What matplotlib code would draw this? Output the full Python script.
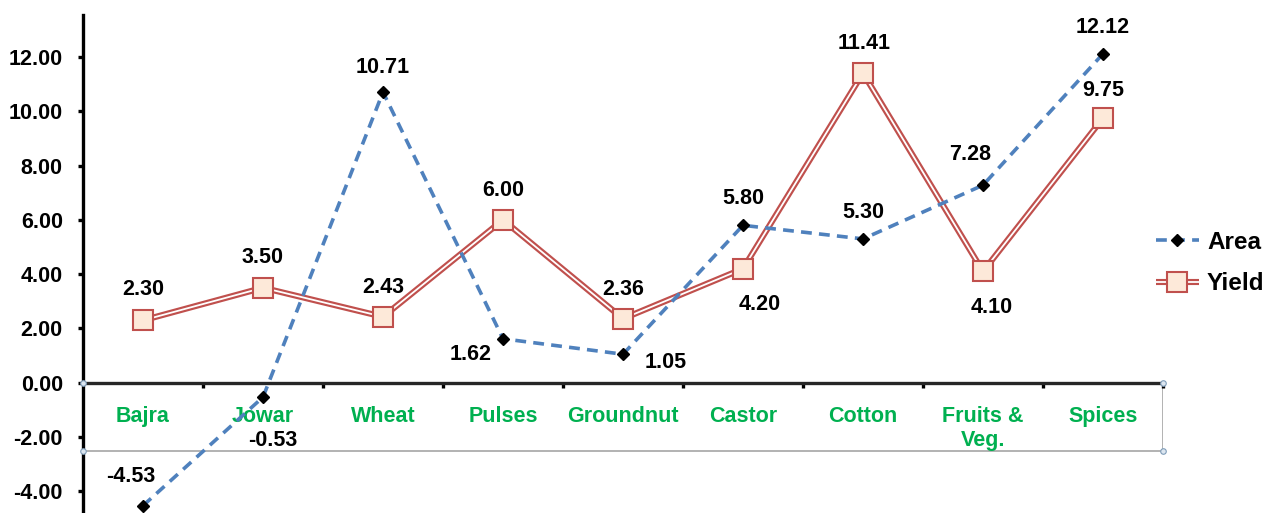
import matplotlib
matplotlib.use("Agg")
import matplotlib.pyplot as plt
from matplotlib.ticker import FormatStrFormatter

plt.rcParams['font.family'] = ['Liberation Sans', 'DejaVu Sans']
plt.rcParams['font.weight'] = 'bold'

# data
crops = ["Bajra", "Jowar", "Wheat", "Pulses", "Groundnut", "Castor", "Cotton",
         "Fruits &\nVeg.", "Spices"]
area = [-4.53, -0.53, 10.71, 1.62, 1.05, 5.80, 5.30, 7.28, 12.12]
yld = [2.30, 3.50, 2.43, 6.00, 2.36, 4.20, 11.41, 4.10, 9.75]

# label offsets in points (dx, dy)
area_off = [(-9, 21), (7, -31), (0, 18), (-23, -11), (31, -6), (0, 19), (0, 19), (-9, 22), (0, 19)]
yld_off = [(0, 22), (0, 22), (0, 21), (0, 21), (0, 21), (12, -26), (1, 21), (6, -26), (0, 20)]

blue = '#4F81BD'
red = '#C0504D'
green = '#00B050'
fs = 15.5

fig = plt.figure(figsize=(12.71, 5.13), dpi=100)
ax = fig.add_axes([83 / 1271, 0, (1163 - 83) / 1271, 1 - 15 / 513])

x = list(range(len(crops)))

# yield: double line (red outline, white core) with square markers
y_out, = ax.plot(x, yld, color=red, lw=4.4, solid_capstyle='butt', zorder=3)
y_in, = ax.plot(x, yld, color='white', lw=1.3, marker='s', ms=14,
                mfc='#FDE9D9', mec=red, mew=1.5, zorder=4)
# area: dashed blue line with black diamonds
a_line, = ax.plot(x, area, color=blue, lw=2.6, ls=(0, (3, 2)), marker='D', ms=6,
                  mfc='black', mec='black', zorder=5)

for i in x:
    ax.annotate(f"{area[i]:.2f}", (i, area[i]), xytext=area_off[i], textcoords='offset points',
                ha='center', va='center', fontsize=fs, fontweight='bold', zorder=6)
    ax.annotate(f"{yld[i]:.2f}", (i, yld[i]), xytext=yld_off[i], textcoords='offset points',
                ha='center', va='center', fontsize=fs, fontweight='bold', zorder=6)

ax.set_xlim(-0.5, 8.5)
ax.set_ylim(-4.8, 13.55)
ax.set_yticks([-4, -2, 0, 2, 4, 6, 8, 10, 12])
ax.yaxis.set_major_formatter(FormatStrFormatter('%.2f'))

# category label box
ax.plot([-0.5, 8.5, 8.5], [-2.5, -2.5, 0], color='#A6A6A6', lw=1.2, zorder=1)
ax.plot([-0.5, -0.5, 8.5, 8.5], [0, -2.5, 0, -2.5], ls='none', marker='o', ms=4,
        mfc='#DCE6F0', mec='#7F9DB9', mew=0.8, zorder=7, clip_on=False)

ax.spines['top'].set_visible(False)
ax.spines['right'].set_visible(False)
ax.spines['left'].set_linewidth(2.4)
ax.spines['left'].set_color('black')
ax.spines['bottom'].set_position(('data', 0))
ax.spines['bottom'].set_linewidth(2.4)
ax.spines['bottom'].set_color('#262626')

ax.set_xticks(x)
ax.set_xticklabels(crops, color=green, fontsize=fs, fontweight='bold', linespacing=1.15)
ax.set_xticks([i + 0.5 for i in x], minor=True)
ax.tick_params(axis='x', which='major', length=0, pad=17)
ax.tick_params(axis='x', which='minor', length=3.5, width=2.4, direction='out', color='black')
ax.tick_params(axis='y', length=3.5, width=2.4, pad=11, labelsize=fs, direction='out')
for lab in ax.get_yticklabels():
    lab.set_fontweight('bold')

fig.legend([a_line, (y_out, y_in)], ["Area", "Yield"], loc='center left',
           bbox_to_anchor=(1156 / 1271, 1 - 263 / 513), frameon=False,
           borderpad=0, borderaxespad=0, handlelength=1.75, handletextpad=0.35,
           labelspacing=0.75, prop={'weight': 'bold', 'size': 17.5})

fig.savefig('out.png', dpi=100)
